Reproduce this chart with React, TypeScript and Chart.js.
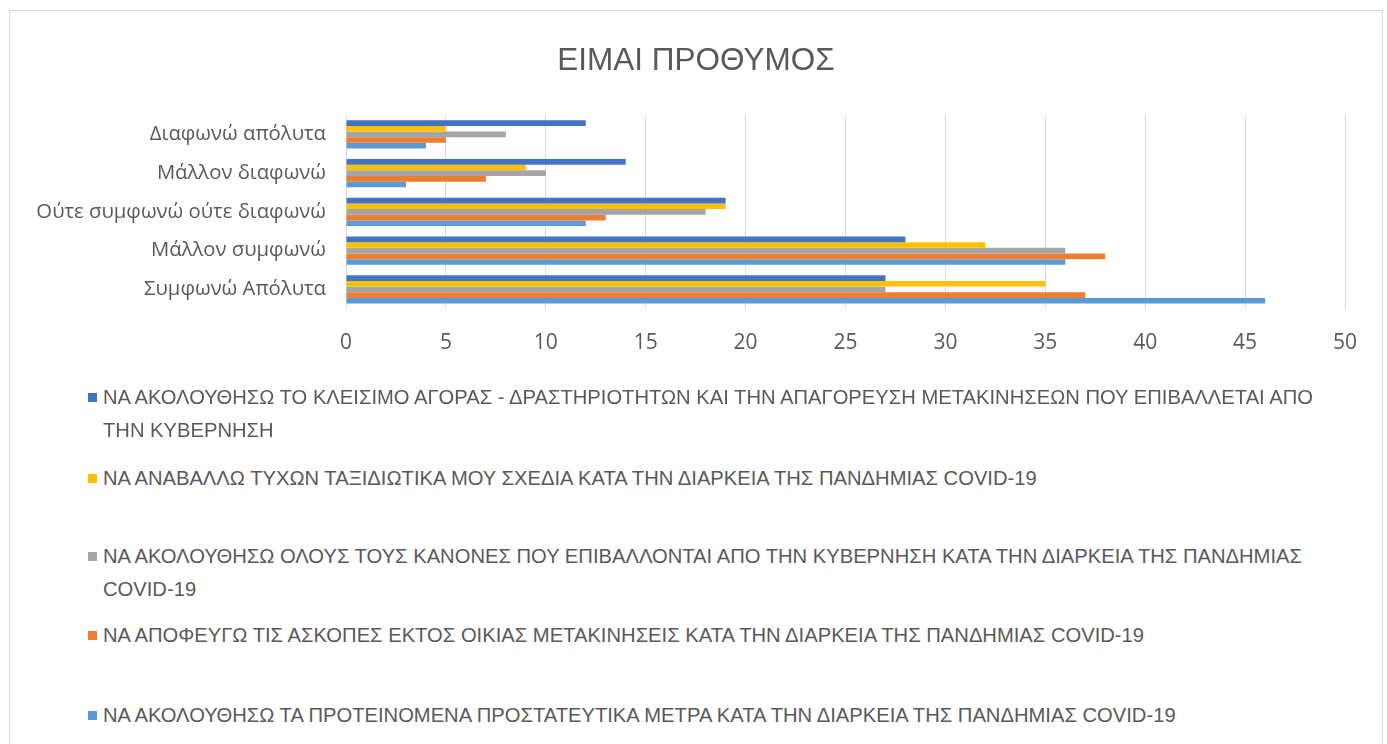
import React, { useEffect, useRef } from "react";
import { Chart, registerables } from "chart.js";

Chart.register(...registerables);

const categories = [
  "Διαφωνώ απόλυτα",
  "Μάλλον διαφωνώ",
  "Ούτε συμφωνώ ούτε διαφωνώ",
  "Μάλλον συμφωνώ",
  "Συμφωνώ Απόλυτα",
];

const seriesNames = [
  "ΝΑ ΑΚΟΛΟΥΘΗΣΩ ΤΟ ΚΛΕΙΣΙΜΟ ΑΓΟΡΑΣ - ΔΡΑΣΤΗΡΙΟΤΗΤΩΝ ΚΑΙ ΤΗΝ ΑΠΑΓΟΡΕΥΣΗ ΜΕΤΑΚΙΝΗΣΕΩΝ ΠΟΥ ΕΠΙΒΑΛΛΕΤΑΙ ΑΠΟ\nΤΗΝ ΚΥΒΕΡΝΗΣΗ",
  "ΝΑ ΑΝΑΒΑΛΛΩ ΤΥΧΩΝ ΤΑΞΙΔΙΩΤΙΚΑ ΜΟΥ ΣΧΕΔΙΑ ΚΑΤΑ ΤΗΝ ΔΙΑΡΚΕΙΑ ΤΗΣ ΠΑΝΔΗΜΙΑΣ COVID-19",
  "ΝΑ ΑΚΟΛΟΥΘΗΣΩ ΟΛΟΥΣ ΤΟΥΣ ΚΑΝΟΝΕΣ ΠΟΥ ΕΠΙΒΑΛΛΟΝΤΑΙ ΑΠΟ ΤΗΝ ΚΥΒΕΡΝΗΣΗ ΚΑΤΑ ΤΗΝ ΔΙΑΡΚΕΙΑ ΤΗΣ ΠΑΝΔΗΜΙΑΣ\nCOVID-19",
  "ΝΑ ΑΠΟΦΕΥΓΩ ΤΙΣ ΑΣΚΟΠΕΣ ΕΚΤΟΣ ΟΙΚΙΑΣ ΜΕΤΑΚΙΝΗΣΕΙΣ ΚΑΤΑ ΤΗΝ ΔΙΑΡΚΕΙΑ ΤΗΣ ΠΑΝΔΗΜΙΑΣ COVID-19",
  "ΝΑ ΑΚΟΛΟΥΘΗΣΩ ΤΑ ΠΡΟΤΕΙΝΟΜΕΝΑ ΠΡΟΣΤΑΤΕΥΤΙΚΑ ΜΕΤΡΑ ΚΑΤΑ ΤΗΝ ΔΙΑΡΚΕΙΑ ΤΗΣ ΠΑΝΔΗΜΙΑΣ COVID-19",
];

const closureValues = [12, 14, 19, 28, 27];
const postponeValues = [5, 9, 19, 32, 35];
const allRulesValues = [8, 10, 18, 36, 27];
const avoidValues = [5, 7, 13, 38, 37];
const measuresValues = [4, 3, 12, 36, 46];

const seriesColors = ["#4472C4", "#FFC000", "#A5A5A5", "#ED7D31", "#5B9BD5"];

const xTicks = [0, 5, 10, 15, 20, 25, 30, 35, 40, 45, 50];

const titleText = "ΕΙΜΑΙ ΠΡΟΘΥΜΟΣ";

const legendTops = [370, 451, 529, 608, 688];

const FONT = "'Liberation Sans', Arial, sans-serif";
const AXFONT = "'Open Sans', 'Liberation Sans', sans-serif";
const TEXT = "#595959";

export default function App() {
  const canvasRef = useRef<HTMLCanvasElement | null>(null);

  useEffect(() => {
    if (!canvasRef.current) return;
    const values = [closureValues, postponeValues, allRulesValues, avoidValues, measuresValues];
    const chart = new Chart(canvasRef.current, {
      type: "bar",
      data: {
        labels: categories,
        datasets: values.map((v, i) => ({
          label: seriesNames[i],
          data: v,
          backgroundColor: seriesColors[i],
          borderWidth: 0,
          categoryPercentage: 0.73,
          barPercentage: 1.0,
        })),
      },
      options: {
        indexAxis: "y",
        animation: false,
        responsive: false,
        devicePixelRatio: 1,
        layout: { padding: { left: 0, right: 37, top: 104, bottom: 6 } },
        plugins: {
          legend: { display: false },
          tooltip: { enabled: false },
          title: { display: false },
        },
        scales: {
          x: {
            min: 0,
            max: 50,
            afterBuildTicks: (scale: any) => {
              scale.ticks = xTicks.map((v) => ({ value: v }));
            },
            grid: { color: "#D9D9D9", drawTicks: false, lineWidth: 1 },
            border: { display: false },
            ticks: {
              color: TEXT,
              padding: 22,
              font: { family: AXFONT, size: 21 },
            },
          },
          y: {
            grid: { display: false, drawTicks: false },
            border: { display: false },
            afterFit: (scale: any) => {
              scale.width = 336;
            },
            ticks: {
              color: TEXT,
              padding: 20,
              font: { family: AXFONT, size: 20.3 },
            },
          },
        },
      },
    });
    return () => chart.destroy();
  }, []);

  return (
    <div style={{ position: "fixed", inset: 0, overflow: "hidden", background: "#fff" }}>
      <div
        style={{
          position: "absolute",
          left: 9,
          top: 10,
          width: 1372,
          height: 800,
          border: "1px solid #D9D9D9",
          background: "#fff",
        }}
      >
        <div
          style={{
            position: "absolute",
            left: 0,
            width: 1372,
            top: 28,
            textAlign: "center",
            fontFamily: FONT,
            fontSize: 31.5,
            lineHeight: "40px",
            color: TEXT,
          }}
        >
          {titleText}
        </div>
        <canvas ref={canvasRef} width={1372} height={373} style={{ display: "block" }} />
        {seriesNames.map((name, i) => (
          <div
            key={i}
            style={{
              position: "absolute",
              left: 78,
              top: legendTops[i],
              fontFamily: FONT,
              fontSize: 20.2,
              lineHeight: "32.5px",
              color: TEXT,
              whiteSpace: "nowrap",
            }}
          >
            {name.split("\n").map((line, j) => (
              <div key={j} style={{ position: "relative", paddingLeft: j === 0 ? 0 : 15 }}>
                {j === 0 && (
                  <span
                    style={{
                      display: "inline-block",
                      width: 9,
                      height: 9,
                      background: seriesColors[i],
                      marginRight: 6,
                      verticalAlign: "middle",
                      position: "relative",
                      top: -1,
                    }}
                  />
                )}
                {line}
              </div>
            ))}
          </div>
        ))}
      </div>
    </div>
  );
}
